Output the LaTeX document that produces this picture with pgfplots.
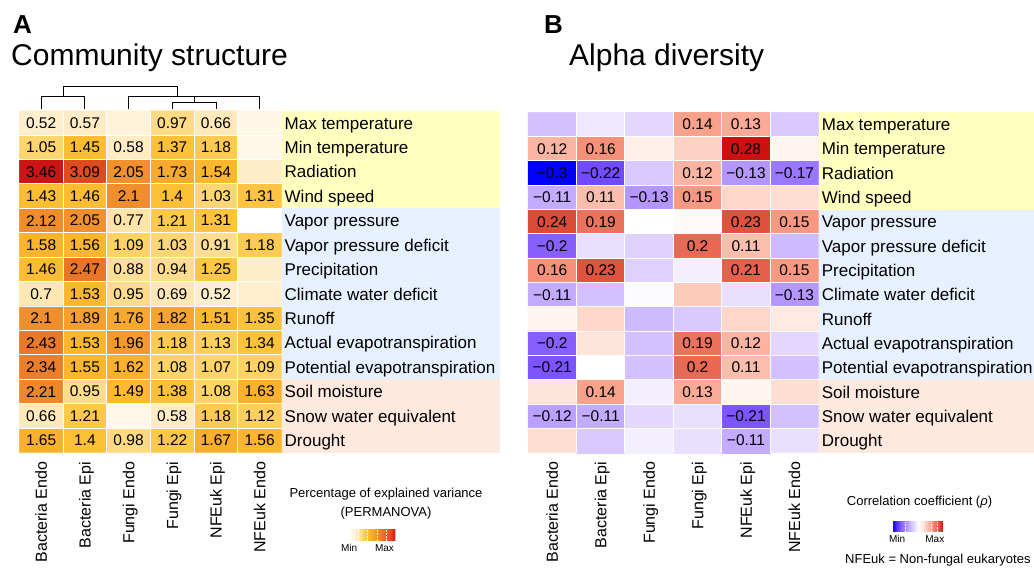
\documentclass[border=0pt]{standalone}
\usepackage{fontspec}
\setmainfont{Liberation Sans}
\usepackage{pgfplots}
\pgfplotsset{compat=1.18}
\usepackage{pgfplotstable}
\usetikzlibrary{calc}
\newcommand{\fs}[1]{\fontsize{#1}{#1}\selectfont}
\definecolor{bandY}{RGB}{255,255,192}
\definecolor{bandB}{RGB}{230,240,255}
\definecolor{bandP}{RGB}{253,233,222}

\pgfplotsset{
  colormap={permA}{rgb255(0pt)=(255,255,255); rgb255(30pt)=(255,247,230); rgb255(52pt)=(255,238,205);
    rgb255(66pt)=(255,232,185); rgb255(77pt)=(255,228,170); rgb255(95pt)=(255,220,140);
    rgb255(109pt)=(254,210,100); rgb255(121pt)=(254,200,75); rgb255(143pt)=(253,190,50);
    rgb255(158pt)=(252,180,45); rgb255(176pt)=(247,168,45); rgb255(189pt)=(245,160,45);
    rgb255(205pt)=(240,145,45); rgb255(247pt)=(232,118,40); rgb255(309pt)=(222,75,30);
    rgb255(346pt)=(205,20,20)},
  colormap={rhoB}{rgb255(0pt)=(0,0,255); rgb255(80pt)=(115,75,255); rgb255(100pt)=(135,95,255);
    rgb255(170pt)=(180,150,255); rgb255(190pt)=(195,172,255); rgb255(250pt)=(228,215,255);
    rgb255(300pt)=(255,255,255); rgb255(350pt)=(255,228,218); rgb255(410pt)=(252,190,172);
    rgb255(430pt)=(250,170,150); rgb255(460pt)=(245,145,120); rgb255(500pt)=(232,105,85);
    rgb255(540pt)=(220,75,55); rgb255(580pt)=(204,17,17)},
  heat/.style={
    scale only axis, enlargelimits=false,
    xmin=-0.5, xmax=5.5, ymin=-0.5, ymax=13.5, y dir=reverse,
    clip=false, axis on top,
    axis line style={draw=none},
    major tick length=0pt, minor tick length=0pt,
    xtick={0,...,5}, ytick={0,...,13},
    xticklabels={Bacteria Endo,Bacteria Epi,Fungi Endo,Fungi Epi,NFEuk Epi,NFEuk Endo},
    yticklabels={Max temperature,Min temperature,Radiation,Wind speed,Vapor pressure,Vapor pressure deficit,Precipitation,Climate water deficit,Runoff,Actual evapotranspiration,Potential evapotranspiration,Soil moisture,Snow water equivalent,Drought},
    yticklabel pos=right,
    xticklabel style={rotate=90, anchor=east, inner sep=0pt, font=\fs{16}, text height=11.5pt, text depth=0pt},
    xticklabel shift=9pt,
    yticklabel style={anchor=west, inner sep=0pt, font=\fs{17}, text height=12.2pt, text depth=0pt},
    yticklabel shift=3pt,
    minor xtick={0.5,1.5,2.5,3.5,4.5},
    minor ytick={0.5,1.5,...,12.5},
    xminorgrids, yminorgrids,
    minor grid style={white, line width=1pt},
  },
  cellvals/.style={only marks, mark=none, point meta=explicit symbolic,
    nodes near coords={\pgfplotspointmeta},
    nodes near coords style={font=\fs{15.5}, anchor=center, inner sep=0pt, text=black}},
  cbar/.style={scale only axis, axis on top, axis line style={draw=none},
    grid=none, minor xtick={}, minor ytick={}, ytick=\empty,
    major tick length=0pt, minor tick length=0pt,
    xticklabel style={rotate=0, anchor=north, inner sep=0pt, font=\fs{10}, text height=7.2pt, text depth=0pt},
    xticklabel shift=4pt},
}

% Panel A: % of explained variance (colour values; blank cells estimated from colour)
\pgfplotstableread{
x y c
0 0 0.52
1 0 0.57
2 0 0.42
3 0 0.97
4 0 0.66
5 0 0.30
0 1 1.05
1 1 1.45
2 1 0.58
3 1 1.37
4 1 1.18
5 1 0.28
0 2 3.46
1 2 3.09
2 2 2.05
3 2 1.73
4 2 1.54
5 2 0.55
0 3 1.43
1 3 1.46
2 3 2.10
3 3 1.40
4 3 1.03
5 3 1.31
0 4 2.12
1 4 2.05
2 4 0.77
3 4 1.21
4 4 1.31
5 4 0.00
0 5 1.58
1 5 1.56
2 5 1.09
3 5 1.03
4 5 0.91
5 5 1.18
0 6 1.46
1 6 2.47
2 6 0.88
3 6 0.94
4 6 1.25
5 6 0.55
0 7 0.70
1 7 1.53
2 7 0.95
3 7 0.69
4 7 0.52
5 7 0.50
0 8 2.10
1 8 1.89
2 8 1.76
3 8 1.82
4 8 1.51
5 8 1.35
0 9 2.43
1 9 1.53
2 9 1.96
3 9 1.18
4 9 1.13
5 9 1.34
0 10 2.34
1 10 1.55
2 10 1.62
3 10 1.08
4 10 1.07
5 10 1.09
0 11 2.21
1 11 0.95
2 11 1.49
3 11 1.38
4 11 1.08
5 11 1.63
0 12 0.66
1 12 1.21
2 12 0.28
3 12 0.58
4 12 1.18
5 12 1.12
0 13 1.65
1 13 1.40
2 13 0.98
3 13 1.22
4 13 1.67
5 13 1.56
}\tabA

\pgfplotstableread{
x y lab
0 0 0.52
1 0 0.57
3 0 0.97
4 0 0.66
0 1 1.05
1 1 1.45
2 1 0.58
3 1 1.37
4 1 1.18
0 2 3.46
1 2 3.09
2 2 2.05
3 2 1.73
4 2 1.54
0 3 1.43
1 3 1.46
2 3 2.1
3 3 1.4
4 3 1.03
5 3 1.31
0 4 2.12
1 4 2.05
2 4 0.77
3 4 1.21
4 4 1.31
0 5 1.58
1 5 1.56
2 5 1.09
3 5 1.03
4 5 0.91
5 5 1.18
0 6 1.46
1 6 2.47
2 6 0.88
3 6 0.94
4 6 1.25
0 7 0.7
1 7 1.53
2 7 0.95
3 7 0.69
4 7 0.52
0 8 2.1
1 8 1.89
2 8 1.76
3 8 1.82
4 8 1.51
5 8 1.35
0 9 2.43
1 9 1.53
2 9 1.96
3 9 1.18
4 9 1.13
5 9 1.34
0 10 2.34
1 10 1.55
2 10 1.62
3 10 1.08
4 10 1.07
5 10 1.09
0 11 2.21
1 11 0.95
2 11 1.49
3 11 1.38
4 11 1.08
5 11 1.63
0 12 0.66
1 12 1.21
3 12 0.58
4 12 1.18
5 12 1.12
0 13 1.65
1 13 1.4
2 13 0.98
3 13 1.22
4 13 1.67
5 13 1.56
}\labA

% Panel B: correlation coefficients (blank cells estimated from colour)
\pgfplotstableread{
x y c
0 0 -0.08
1 0 -0.03
2 0 -0.05
3 0 0.14
4 0 0.13
5 0 -0.07
0 1 0.12
1 1 0.16
2 1 0.03
3 1 0.08
4 1 0.28
5 1 0.02
0 2 -0.30
1 2 -0.22
2 2 -0.07
3 2 0.12
4 2 -0.13
5 2 -0.17
0 3 -0.11
1 3 0.11
2 3 -0.13
3 3 0.15
4 3 0.07
5 3 0.06
0 4 0.24
1 4 0.19
2 4 0.00
3 4 0.01
4 4 0.23
5 4 0.15
0 5 -0.20
1 5 -0.04
2 5 -0.06
3 5 0.20
4 5 0.11
5 5 -0.09
0 6 0.16
1 6 0.23
2 6 -0.06
3 6 -0.02
4 6 0.21
5 6 0.15
0 7 -0.11
1 7 -0.08
2 7 -0.005
3 7 0.09
4 7 -0.04
5 7 -0.13
0 8 0.02
1 8 0.07
2 8 -0.09
3 8 -0.07
4 8 0.07
5 8 0.04
0 9 -0.20
1 9 0.05
2 9 -0.08
3 9 0.19
4 9 0.12
5 9 -0.05
0 10 -0.21
1 10 0.00
2 10 -0.08
3 10 0.20
4 10 0.11
5 10 -0.08
0 11 0.05
1 11 0.14
2 11 -0.02
3 11 0.13
4 11 0.02
5 11 0.06
0 12 -0.12
1 12 -0.11
2 12 -0.05
3 12 -0.04
4 12 -0.21
5 12 -0.08
0 13 0.06
1 13 -0.07
2 13 -0.02
3 13 -0.04
4 13 -0.11
5 13 -0.04
}\tabB

\pgfplotstableread{
x y lab
3 0 0.14
4 0 0.13
0 1 0.12
1 1 0.16
4 1 0.28
0 2 −0.3
1 2 −0.22
3 2 0.12
4 2 −0.13
5 2 −0.17
0 3 −0.11
1 3 0.11
2 3 −0.13
3 3 0.15
0 4 0.24
1 4 0.19
4 4 0.23
5 4 0.15
0 5 −0.2
3 5 0.2
4 5 0.11
0 6 0.16
1 6 0.23
4 6 0.21
5 6 0.15
0 7 −0.11
5 7 −0.13
0 9 −0.2
3 9 0.19
4 9 0.12
0 10 −0.21
3 10 0.2
4 10 0.11
1 11 0.14
3 11 0.13
0 12 −0.12
1 12 −0.11
4 12 −0.21
4 13 −0.11
}\labB

\begin{document}
\begin{tikzpicture}
\path[use as bounding box] (0pt,0pt) rectangle (1034pt,-568pt);
% row label bands
\fill[bandY] (281.5pt,-110.7pt) rectangle (500pt,-208.4pt);
\fill[bandB] (281.5pt,-208.4pt) rectangle (500pt,-379.4pt);
\fill[bandP] (281.5pt,-379.4pt) rectangle (500pt,-452.7pt);
\fill[bandY] (818.7pt,-112.3pt) rectangle (1034pt,-209.5pt);
\fill[bandB] (818.7pt,-209.5pt) rectangle (1034pt,-379.7pt);
\fill[bandP] (818.7pt,-379.7pt) rectangle (1034pt,-452.7pt);
% titles
\node[anchor=base west, inner sep=0pt, font=\fs{26}\bfseries] at (13pt,-33pt) {A};
\node[anchor=base west, inner sep=0pt, font=\fs{30}] at (11pt,-65.5pt) {Community structure};
\node[anchor=base west, inner sep=0pt, font=\fs{26}\bfseries] at (544pt,-33pt) {B};
\node[anchor=base west, inner sep=0pt, font=\fs{30}] at (569pt,-65.5pt) {Alpha diversity};

\begin{axis}[heat, at={(19.3pt,-110.7pt)}, anchor=north west, width=262.2pt, height=342pt,
  colormap name=permA, point meta min=0, point meta max=3.46,
  colorbar horizontal,
  colorbar style={cbar, at={($(parent axis.south east)+(90.5pt,-73.8pt)$)}, anchor=center,
    width=47pt, height=11pt, xtick={0.05,2.65}, xticklabels={Min,Max},
    extra x ticks={0.7,1.4,2.1,2.8}, extra x tick labels={},
    extra x tick style={grid=major, major grid style={white, dash pattern=on 1.5pt off 1.5pt, line width=0.5pt}}}]
\addplot[matrix plot*, mesh/cols=6, point meta=explicit] table[x=x, y=y, meta=c] {\tabA};
\addplot[cellvals] table[x=x, y=y, meta=lab] {\labA};
% dendrogram
\addplot[black, line width=0.8pt, mark=none] coordinates {(0,-0.57) (0,-1.102) (1,-1.102) (1,-0.57)};
\addplot[black, line width=0.8pt, mark=none] coordinates {(3,-0.57) (3,-0.844) (4,-0.844) (4,-0.57)};
\addplot[black, line width=0.8pt, mark=none] coordinates {(3.5,-0.844) (3.5,-1.073) (5,-1.073) (5,-0.57)};
\addplot[black, line width=0.8pt, mark=none] coordinates {(2,-0.57) (2,-1.102) (4.25,-1.102) (4.25,-1.073)};
\addplot[black, line width=0.8pt, mark=none] coordinates {(0.5,-1.102) (0.5,-1.511) (3.125,-1.511) (3.125,-1.102)};
\end{axis}

\begin{axis}[heat, at={(528pt,-112.3pt)}, anchor=north west, width=290.7pt, height=340.4pt,
  colormap name=rhoB, point meta min=-0.30, point meta max=0.28,
  colorbar horizontal,
  colorbar style={cbar, at={($(parent axis.south east)+(98.8pt,-65.3pt)$)}, anchor=center,
    width=51pt, height=10pt, xtick={-0.242,0.187}, xticklabels={Min,Max},
    extra x ticks={-0.15,0.05,0.15,0.22}, extra x tick labels={},
    extra x tick style={grid=major, major grid style={white, dash pattern=on 1.5pt off 1.5pt, line width=0.5pt}}}]
\addplot[matrix plot*, mesh/cols=6, point meta=explicit] table[x=x, y=y, meta=c] {\tabB};
\addplot[cellvals] table[x=x, y=y, meta=lab] {\labB};
\end{axis}

% legends
\node[anchor=base, inner sep=0pt, font=\fs{13}] at (386pt,-497.7pt) {Percentage of explained variance};
\node[anchor=base, inner sep=0pt, font=\fs{13}] at (386pt,-516pt) {(PERMANOVA)};
\node[anchor=base, inner sep=0pt, font=\fs{13}] at (919.5pt,-505.7pt) {Correlation coefficient (\textit{ρ})};
\node[anchor=base west, inner sep=0pt, font=\fs{13}] at (845pt,-563.7pt) {NFEuk = Non-fungal eukaryotes};
\end{tikzpicture}
\end{document}
